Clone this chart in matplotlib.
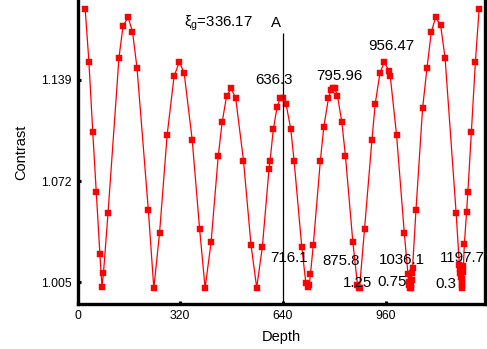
import matplotlib
matplotlib.use("Agg")
import matplotlib.pyplot as plt

plt.rcParams['font.family'] = ['Liberation Sans', 'DejaVu Sans']
plt.rcParams['mathtext.fontset'] = 'custom'
plt.rcParams['mathtext.rm'] = 'Liberation Sans'
plt.rcParams['mathtext.it'] = 'Liberation Sans'

depth = [24.0, 35.6, 47.5, 58.4, 69.9, 76.2, 80.9, 95.2, 129.3, 142.1, 157.7, 171.4, 185.4,
         220.7, 237.9, 255.7, 279.4, 301.0, 317.5, 332.5, 357.5, 380.6, 397.7, 416.5,
         438.6, 450.8, 464.9, 478.9, 493.0, 517.3, 540.7, 558.5, 576.0, 596.9, 600.1,
         610.3, 621.9, 632.2, 641.6, 650.0, 664.7, 675.0, 699.0, 711.8, 717.1, 722.4,
         725.9, 734.9, 756.8, 767.7, 782.1, 789.6, 795.8, 802.0, 810.2, 823.9, 835.1,
         858.2, 872.6, 877.0, 878.9, 894.5, 917.6, 927.9, 942.5, 956.0, 970.6, 974.7,
         994.4, 1018.4, 1029.9, 1031.8, 1034.0, 1037.1, 1038.7, 1040.3, 1041.2, 1042.4,
         1044.3, 1054.9, 1075.5, 1089.3, 1102.7, 1116.1, 1131.7, 1145.5, 1180.1,
         1190.1, 1192.3, 1193.2, 1196.3, 1197.3, 1197.9, 1198.5, 1199.5, 1201.0, 1202.6,
         1205.7, 1212.6, 1216.7, 1227.6, 1240.1, 1251.6]
contrast = [1.1857, 1.1510, 1.1047, 1.0650, 1.0235, 1.0021, 1.0110, 1.0509, 1.1538, 1.1749,
            1.1804, 1.1709, 1.1471, 1.0530, 1.0010, 1.0376, 1.1026, 1.1414, 1.1510, 1.1434,
            1.0992, 1.0402, 1.0012, 1.0318, 1.0885, 1.1110, 1.1285, 1.1334, 1.1268, 1.0856,
            1.0298, 1.0014, 1.0282, 1.0799, 1.0855, 1.1062, 1.1209, 1.1272, 1.1272, 1.1230,
            1.1063, 1.0855, 1.0282, 1.0043, 1.0016, 1.0029, 1.0102, 1.0297, 1.0855, 1.1080,
            1.1268, 1.1323, 1.1334, 1.1334, 1.1285, 1.1109, 1.0885, 1.0315, 1.0034, 1.0009,
            1.0010, 1.0402, 1.0992, 1.1232, 1.1434, 1.1508, 1.1451, 1.1414, 1.1025, 1.0378,
            1.0104, 1.0054, 1.0032, 1.0014, 1.0010, 1.0029, 1.0065, 1.0112, 1.0147, 1.0530,
            1.1202, 1.1471, 1.1707, 1.1804, 1.1751, 1.1537, 1.0507,
            1.0165, 1.0141, 1.0110, 1.0087, 1.0054, 1.0014, 1.0032, 1.0072, 1.0118, 1.0158,
            1.0302, 1.0515, 1.0650, 1.1047, 1.1510, 1.1857]

xticks = [0, 320, 640, 960]
yticks = [1.005, 1.072, 1.139]
marker_depth = 640
peak_labels = ["636.3", "795.96", "956.47"]
peak_pos = [(613, 1.1389), (815.6, 1.1416), (979, 1.1614)]
valley_labels = ["716.1", "875.8", "1036.1", "1197.7"]
valley_pos = [(659.7, 1.0213), (821.8, 1.0193), (1011, 1.0198), (1199, 1.0213)]
step_labels = ["1.25", "0.75", "0.3"]
step_pos = [(871.7, 1.0047), (980.9, 1.0054), (1149.4, 1.0039)]

W, H = 487, 349
fig = plt.figure(figsize=(W / 100, H / 100), dpi=100)
x0, x1, yb = 77.5, 485.0, 304.3
ax = fig.add_axes([x0 / W, 1 - yb / H, (x1 - x0) / W, yb / H])

ax.plot(depth, contrast, color='#ff0000', lw=0.9, marker='s', markersize=3.8,
        markerfacecolor='#ff0000', markeredgecolor='#ff0000', markeredgewidth=0.3)

ax.set_xlim(0, 1270)
ax.set_ylim(0.9904, 1.1919)
ax.set_xticks(xticks)
ax.set_xticklabels([str(t) for t in xticks])
ax.set_yticks(yticks)
ax.set_yticklabels([f"{t:.3f}" for t in yticks])
ax.tick_params(direction='in', length=2, width=2.2, labelsize=8.8, pad=4)

ax.spines['top'].set_visible(False)
for s in ['left', 'bottom', 'right']:
    ax.spines[s].set_linewidth(2.4)

ax.vlines(marker_depth, 0.9904, 1.170, color='black', lw=0.9)

fs = 10.8
ax.text(332, 1.1767, r'$\xi_g$=336.17', fontsize=fs, va='center', ha='left')
ax.text(619, 1.1767, 'A', fontsize=fs, va='center', ha='center')
for lab, (x, y) in zip(peak_labels, peak_pos):
    ax.text(x, y, lab, fontsize=fs, va='center', ha='center')
for lab, (x, y) in zip(valley_labels, valley_pos):
    ax.text(x, y, lab, fontsize=fs, va='center', ha='center')
for lab, (x, y) in zip(step_labels, step_pos):
    ax.text(x, y, lab, fontsize=fs, va='center', ha='center')

ax.set_xlabel('Depth', fontsize=10.5)
ax.set_ylabel('Contrast', fontsize=10.5)
ax.xaxis.set_label_coords(0.5, -0.084)
ax.yaxis.set_label_coords(-0.122, 0.5)

fig.savefig('out.png', dpi=100)
